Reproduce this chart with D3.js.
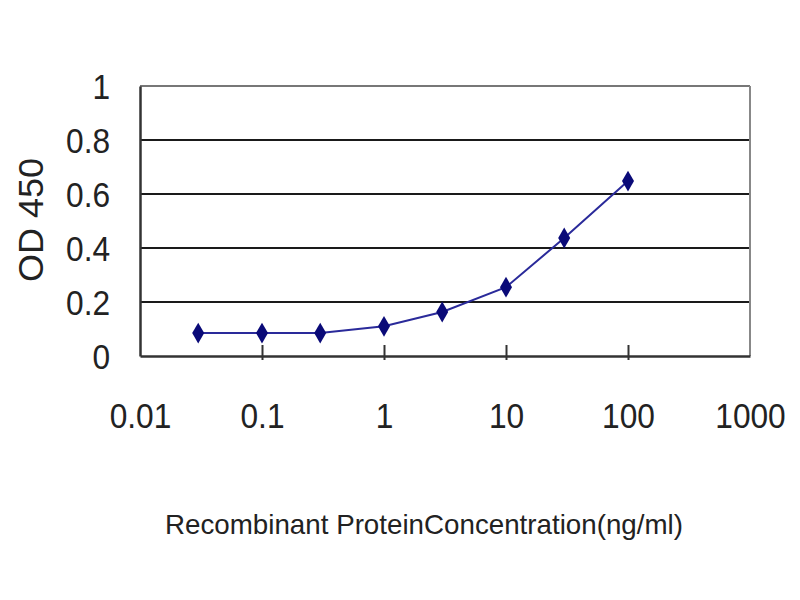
<!DOCTYPE html>
<html><head><meta charset="utf-8">
<script src="https://cdn.jsdelivr.net/npm/d3@7/dist/d3.min.js"></script>
<style>body{margin:0;background:#fff}svg{display:block}text{font-family:"Liberation Sans",Arial,sans-serif;fill:#222}</style>
</head><body>
<script>
const concentrations = [0.03, 0.1, 0.3, 1, 3, 10, 30, 100];
const od450 = [0.085, 0.085, 0.085, 0.11, 0.163, 0.255, 0.437, 0.648];
const xTicks = [0.01, 0.1, 1, 10, 100, 1000];
const xTickLabels = ["0.01", "0.1", "1", "10", "100", "1000"];
const yTicks = [0, 0.2, 0.4, 0.6, 0.8, 1];
const yTickLabels = ["0", "0.2", "0.4", "0.6", "0.8", "1"];
const xTitle = "Recombinant ProteinConcentration(ng/ml)";
const yTitle = "OD 450";

const W = 800, H = 600;
const L = 140, R = 750, T = 86, B = 356;
const svg = d3.select("body").append("svg").attr("width", W).attr("height", H);
const x = d3.scaleLog().domain([0.01, 1000]).range([L, R]);
const y = d3.scaleLinear().domain([0, 1]).range([B, T]);

// gridlines
svg.append("g").selectAll("line").data(yTicks.filter(v => v > 0 && v < 1)).join("line")
  .attr("x1", L).attr("x2", R).attr("y1", d => y(d)).attr("y2", d => y(d))
  .attr("stroke", "#1a1a1a").attr("stroke-width", 2.2);

// frame top/right
svg.append("line").attr("x1", L).attr("x2", R).attr("y1", T).attr("y2", T).attr("stroke", "#777").attr("stroke-width", 2);
svg.append("line").attr("x1", R).attr("x2", R).attr("y1", T).attr("y2", B).attr("stroke", "#888").attr("stroke-width", 2);

// x axis
const xAxis = d3.axisBottom(x).tickValues(xTicks).tickSize(0).tickFormat((d, i) => xTickLabels[i]);
const gx = svg.append("g").attr("transform", `translate(0,${B})`).call(xAxis);
gx.select(".domain").attr("stroke", "#333").attr("stroke-width", 2.5);
gx.selectAll(".tick line").attr("y1", -11).attr("y2", 4).attr("stroke", "#333").attr("stroke-width", 2)
  .filter(d => d === 0.01 || d === 1000).remove();
gx.selectAll(".tick text").attr("y", 72).attr("dy", 0).attr("font-size", 36)
  .attr("font-family", "Liberation Sans, Arial, sans-serif").attr("fill", "#222")
  .attr("transform", "scale(0.88,1)");

// y axis
const yAxis = d3.axisLeft(y).tickValues(yTicks).tickSize(0).tickPadding(30).tickFormat((d, i) => yTickLabels[i]);
const gy = svg.append("g").attr("transform", `translate(${L},0)`).call(yAxis);
gy.select(".domain").attr("stroke", "#333").attr("stroke-width", 2.5);
gy.selectAll(".tick text").attr("font-size", 36).attr("dy", "0.36em").attr("x", -34)
  .attr("transform", "scale(0.88,1)")
  .attr("font-family", "Liberation Sans, Arial, sans-serif").attr("fill", "#222");

// line
const line = d3.line().x((d, i) => x(concentrations[i])).y(d => y(d));
svg.append("path").datum(od450).attr("d", line).attr("fill", "none")
  .attr("stroke", "#2a2a9a").attr("stroke-width", 2);

// markers
svg.append("g").selectAll("path").data(od450).join("path")
  .attr("transform", (d, i) => `translate(${x(concentrations[i])},${y(d)})`)
  .attr("d", d3.symbol(d3.symbolDiamond, 125))
  .attr("fill", "#0a0a78");

// titles
svg.append("text").attr("x", 424).attr("y", 534).attr("text-anchor", "middle")
  .attr("font-size", 28).attr("textLength", 518).attr("lengthAdjust", "spacingAndGlyphs").text(xTitle);
svg.append("text").attr("transform", "translate(43,220) rotate(-90)").attr("text-anchor", "middle")
  .attr("font-size", 35).attr("textLength", 124).attr("lengthAdjust", "spacingAndGlyphs").text(yTitle);
</script>
</body></html>
